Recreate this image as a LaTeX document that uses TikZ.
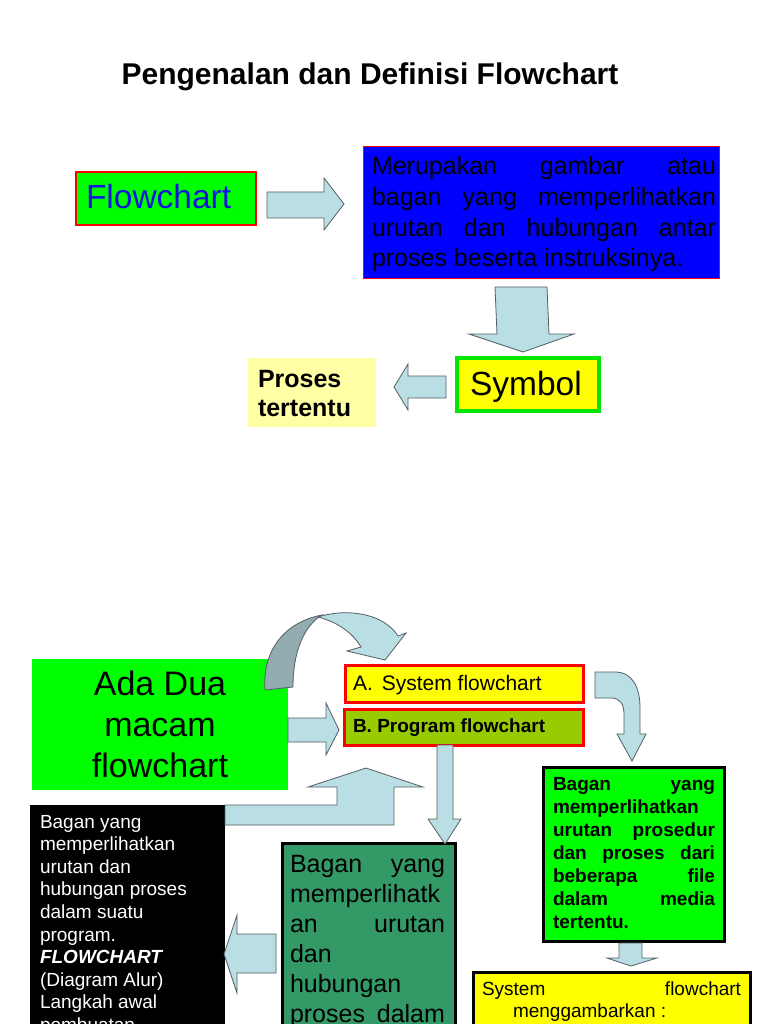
\documentclass[tikz,border=0pt]{standalone}
\usepackage{fontspec}
\setmainfont{Liberation Sans}
\definecolor{fgreen}{RGB}{0,255,0}
\definecolor{pblue}{RGB}{0,0,255}
\definecolor{fcblue}{RGB}{20,20,225}
\definecolor{syellow}{RGB}{255,255,0}
\definecolor{lyellow}{RGB}{255,255,165}
\definecolor{sgreen}{RGB}{0,230,0}
\definecolor{olivebox}{RGB}{153,204,0}
\definecolor{seagreen}{RGB}{51,153,102}
\definecolor{arrowfill}{RGB}{185,222,228}
\definecolor{arrowdark}{RGB}{146,172,178}
\definecolor{arrowedge}{RGB}{85,95,100}
\newcommand\setfs[2]{\fontsize{#1}{#2}\selectfont}
\newlength\jw
\newcommand\jl[1]{\hbox to \jw{\strut #1\hfil}}
\begin{document}
\begin{tikzpicture}[x=1pt,y=-1pt,
  panel/.style={anchor=north west, inner sep=0pt, outer sep=0pt},
  txt/.style={anchor=base west, inner sep=0pt, outer sep=0pt},
  blk/.style={fill=arrowfill, draw=arrowedge, line width=0.8pt, line join=miter},
]
\useasboundingbox (0,0) rectangle (768,1024);
\clip (0,0) rectangle (768,1024);
\fill[white] (0,0) rectangle (768,1024);

% title
\node[anchor=base, inner sep=0pt] (title) at (370,85) {\setfs{30}{36}\bfseries Pengenalan dan Definisi Flowchart};

% top part
\node[panel, fill=fgreen, draw=red, line width=2pt, minimum width=180pt, minimum height=53pt] (fc) at (76,172) {};
\node[txt, text=fcblue] (fct) at (86,209) {\setfs{33.5}{40}Flowchart};

\node[panel, fill=pblue, draw=red, line width=1pt, minimum width=356pt, minimum height=131pt] (def) at (363,147) {};
\node[txt] (deft) at (372,175) {\vtop{\setfs{25}{30.6}\jw=344pt
 \jl{Merupakan\hfill gambar\hfill atau}
 \jl{bagan\hfill yang\hfill memperlihatkan}
 \jl{urutan\hfill dan\hfill hubungan\hfill antar}
 \jl{proses beserta instruksinya.}}};

\node[panel, fill=syellow, draw=sgreen, line width=3.5pt, minimum width=142pt, minimum height=53pt] (sym) at (457,358) {};
\node[txt] (symt) at (470,395) {\setfs{33.5}{40}Symbol};

\node[panel, fill=lyellow, minimum width=128pt, minimum height=69pt] (pt) at (248,358) {};
\node[txt] (ptt) at (258,387) {\vtop{\setfs{25}{29}\bfseries\jw=110pt \jl{Proses}\jl{tertentu}}};

\draw[blk] (267,192) -- (324,192) -- (324,178) -- (344,204) -- (324,230) -- (324,218) -- (267,218) -- cycle;
\draw[blk] (495,287) -- (547,287) -- (549,334) -- (574,334) -- (523,352) -- (469,334) -- (497,334) -- cycle;
\draw[blk] (446,376) -- (408,376) -- (408,364) -- (394,387) -- (408,410) -- (408,398) -- (446,398) -- cycle;

% bottom part
\node[panel, fill=fgreen, minimum width=256pt, minimum height=131pt] (ada) at (32,659) {};
\node[txt] (adat) at (32,695) {\vtop{\setfs{34}{41}\jw=256pt \jl{\hfill Ada Dua\hfill}\jl{\hfill macam\hfill}\jl{\hfill flowchart\hfill}}};

\node[panel, fill=syellow, draw=red, line width=3pt, minimum width=238pt, minimum height=37pt] (sa) at (345,665) {};
\node[txt] (sat) at (353,690) {\setfs{21}{25}A.\hspace{9pt}System flowchart};
\node[panel, fill=olivebox, draw=red, line width=3pt, minimum width=239pt, minimum height=36pt] (pb) at (344,709) {};
\node[txt] (pbt) at (353,732) {\setfs{19}{23}\bfseries B. Program flowchart};

\node[panel, fill=fgreen, draw=black, line width=3pt, minimum width=181pt, minimum height=174pt] (sysd) at (543,767) {};
\node[txt] (sysdt) at (553,790) {\vtop{\setfs{19}{23}\bfseries\jw=162pt
 \jl{Bagan\hfill yang}
 \jl{memperlihatkan}
 \jl{urutan\hfill prosedur}
 \jl{dan\hfill proses\hfill dari}
 \jl{beberapa\hfill file}
 \jl{dalam\hfill media}
 \jl{tertentu.}}};

\node[panel, fill=seagreen, draw=black, line width=3pt, minimum width=173pt, minimum height=220pt] (prd) at (282,843) {};
\node[txt] (prdt) at (290,872) {\vtop{\setfs{25}{30}\jw=155pt
 \jl{Bagan\hfill yang}
 \jl{memperlihatk}
 \jl{an\hfill urutan}
 \jl{dan}
 \jl{hubungan}
 \jl{proses\hfill dalam}}};

\node[panel, fill=black, minimum width=195pt, minimum height=240pt] (prog) at (30,805) {};
\node[txt, text=white] (progt) at (40,828) {\vtop{\setfs{19}{22.6}\jw=180pt
 \jl{Bagan yang}
 \jl{memperlihatkan}
 \jl{urutan dan}
 \jl{hubungan proses}
 \jl{dalam suatu}
 \jl{program.}
 \jl{\textbf{\textit{FLOWCHART}}}
 \jl{(Diagram Alur)}
 \jl{Langkah awal}
 \jl{pembuatan}}};

\node[panel, fill=syellow, draw=black, line width=3pt, minimum width=277pt, minimum height=100pt] (sysg) at (473,972) {};
\node[txt] (sysgt) at (482,995) {\vtop{\setfs{19}{22}\jw=259pt
 \jl{System\hfill flowchart}
 \jl{\hspace{31pt}menggambarkan :}}};

% arrows bottom
\filldraw[fill=arrowdark, draw=arrowedge, line width=0.8pt] (265,690) .. controls (262,650) and (285,622) .. (322,615) .. controls (305,625) and (293,650) .. (293,687) -- cycle;
\draw[blk] (318,617) .. controls (350,607) and (385,615) .. (398,636) -- (406,633) -- (385,660) -- (347,651) -- (361,647) .. controls (352,632) and (337,622) .. (318,617) -- cycle;
\draw[blk] (288,718) -- (326,718) -- (326,703) -- (339,730) -- (326,755) -- (326,742) -- (288,742) -- cycle;
\draw[blk] (595,672) -- (615,672) .. controls (633,672) and (640,688) .. (640,708) -- (640,734) -- (646,734) -- (632,761) -- (617,734) -- (624,734) -- (624,714) .. controls (624,704) and (620,698) .. (611,698) -- (595,698) -- cycle;
\draw[blk] (437,745) -- (453,745) -- (453,819) -- (461,819) -- (445,844) -- (428,819) -- (437,819) -- cycle;
\draw[blk] (225,805) -- (337,805) -- (337,787) -- (308,787) -- (366,768) -- (423,787) -- (394,787) -- (394,825) -- (225,825) -- cycle;
\draw[blk] (276,934) -- (237,934) -- (237,915) -- (224,954) -- (237,993) -- (237,973) -- (276,973) -- cycle;
\draw[blk] (619,943) -- (642,943) -- (642,958) -- (657,958) -- (631,966) -- (607,958) -- (619,958) -- cycle;
\end{tikzpicture}
\end{document}
